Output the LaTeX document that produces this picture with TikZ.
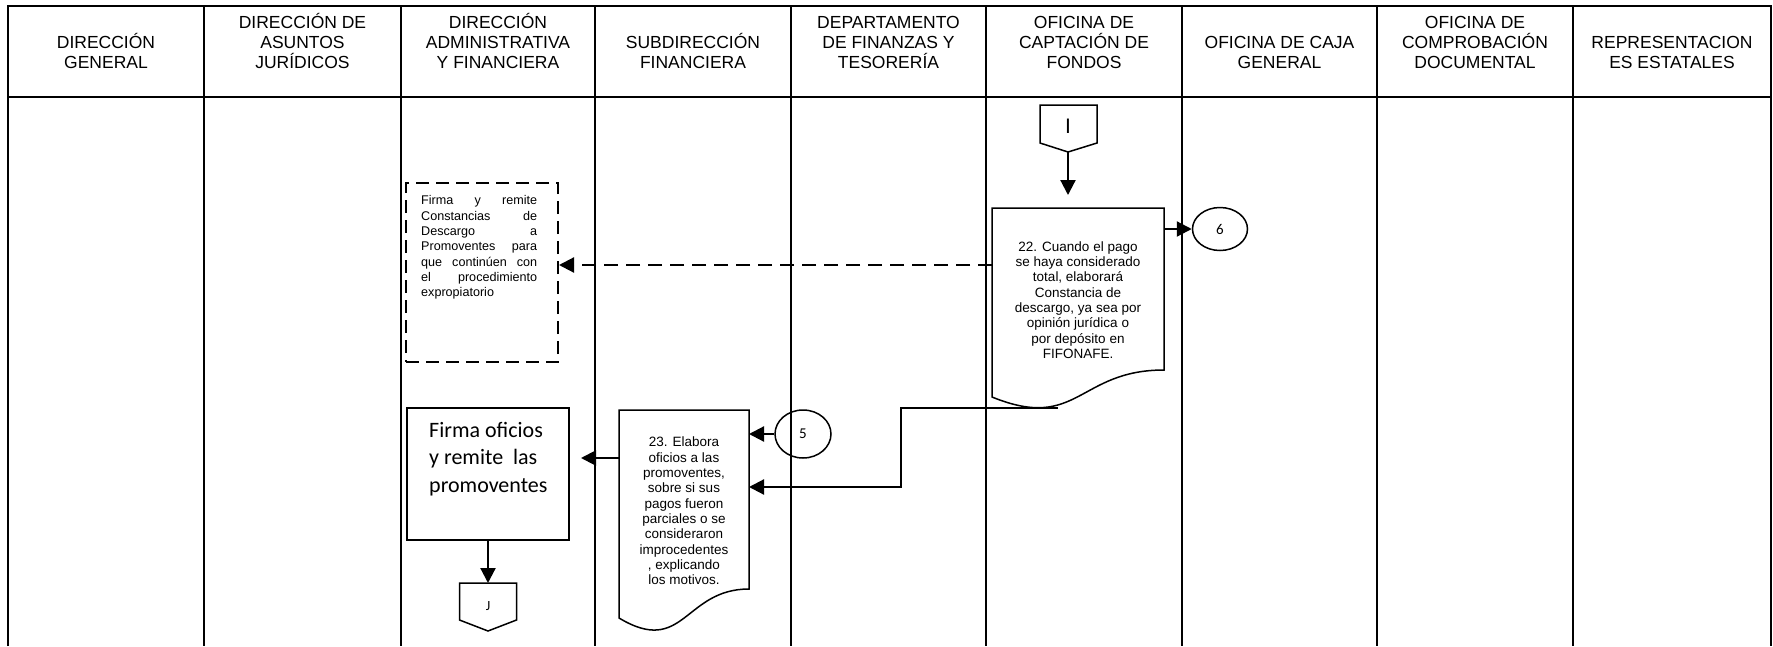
\documentclass[tikz,border=0pt]{standalone}
\usepackage{fontspec}
\setmainfont{Liberation Sans}
\newfontfamily\calfont{Carlito}
\usetikzlibrary{arrows.meta,shapes.geometric}

\tikzset{
  lane/.style={line width=2pt},
  head/.style={align=center, inner sep=0pt, anchor=base, font=\fontsize{17.5}{20}\selectfont},
  docline/.style={line width=1.5pt},
  stepbox/.style={draw, line width=2pt, inner sep=0pt},
  dashbox/.style={draw, line width=2pt, dash pattern=on 13pt off 7pt, inner sep=0pt},
  conn/.style={line width=2.2pt, -{Triangle[length=15pt,width=15pt]}},
  dashconn/.style={conn, dash pattern=on 14pt off 8pt},
  circ/.style={draw, ellipse, line width=1.5pt, inner sep=0pt, font=\calfont\fontsize{15}{18}\selectfont},
  doctext/.style={align=center, inner sep=0pt, font=\fontsize{13.5}{15.3}\selectfont},
  smalltext/.style={align=left, inner sep=0pt, font=\fontsize{12.6}{15.3}\selectfont},
}
\newcommand{\jline}[1]{\makebox[116pt][s]{#1}}

\begin{document}
\begin{tikzpicture}[x=1pt,y=-1pt]
\useasboundingbox (0,0) rectangle (1773,646);

% swimlane frame
\draw[lane] (8,646) -- (8,6) -- (1771,6) -- (1771,646);
\draw[lane] (8,97) -- (1771,97);
\foreach \x in {204,401,595,791,986,1182,1377,1573}
  \draw[lane] (\x,6) -- (\x,646);

% lane headers
\node[head] (h1) at (106,68)   {DIRECCIÓN\\GENERAL};
\node[head] (h2) at (302.5,68) {DIRECCIÓN DE\\ASUNTOS\\JURÍDICOS};
\node[head] (h3) at (498,68)   {DIRECCIÓN\\ADMINISTRATIVA\\Y FINANCIERA};
\node[head] (h4) at (693,68)   {SUBDIRECCIÓN\\FINANCIERA};
\node[head] (h5) at (888.5,68) {DEPARTAMENTO\\DE FINANZAS Y\\TESORERÍA};
\node[head] (h6) at (1084,68)  {OFICINA DE\\CAPTACIÓN DE\\FONDOS};
\node[head] (h7) at (1279.5,68){OFICINA DE CAJA\\GENERAL};
\node[head] (h8) at (1475,68)  {OFICINA DE\\COMPROBACIÓN\\DOCUMENTAL};
\node[head] (h9) at (1672,68)  {REPRESENTACION\\ES ESTATALES};

% off-page connector I
\draw[docline] (1040,105) -- (1097,105) -- (1097,143) -- (1068,152) -- (1040,143) -- cycle;
\node[inner sep=0pt, font=\fontsize{21}{21}\selectfont] (conI) at (1068,126) {I};
\coordinate (conIs) at (1068,152);

% document 22
\draw[docline] (992,208) -- (1164,208) -- (1164,370)
  .. controls (1078,370) and (1078,432) .. (992,397) -- cycle;
\node[doctext] (doc22) at (1078,300) {22. Cuando el pago\\se haya considerado\\total, elaborará\\Constancia de\\descargo, ya sea por\\opinión jurídica o\\por depósito en\\FIFONAFE.};
\coordinate (d22n) at (1068,208);
\coordinate (d22e) at (1164,229);
\coordinate (d22w) at (992,265);
\coordinate (d22s) at (1058,408);

% page connector 6
\node[circ, minimum width=55pt, minimum height=43pt] (c6) at (1220,229) {6};

% dashed signing step
\node[dashbox, minimum width=152pt, minimum height=179pt] (fbox) at (482,272.5) {};
\node[smalltext, anchor=north west] (ftext) at (421,195.5) {\jline{Firma y remite}\\\jline{Constancias de}\\\jline{Descargo a}\\\jline{Promoventes para}\\\jline{que continúen con}\\\jline{el procedimiento}\\expropiatorio};

% document 23
\draw[docline] (619,410) -- (749,410) -- (749,589)
  .. controls (684,589) and (684,657) .. (619,618) -- cycle;
\node[doctext] (doc23) at (684,511) {23. Elabora\\oficios a las\\promoventes,\\sobre si sus\\pagos fueron\\parciales o se\\consideraron\\improcedentes\\, explicando\\los motivos.};
\coordinate (d23a) at (749,434);
\coordinate (d23b) at (749,487);
\coordinate (d23w) at (619,458);
\coordinate (elbow) at (901,408);

% page connector 5
\node[circ, minimum width=56pt, minimum height=48pt] (c5) at (803,434) {5};

% signing step
\node[stepbox, minimum width=162pt, minimum height=132pt] (fof) at (488,474) {};
\node[anchor=north west, align=left, inner sep=0pt, font=\calfont\fontsize{22}{27.5}\selectfont] (foftext) at (429,422) {Firma oficios\\y remite\ \ las\\promoventes};

% off-page connector J
\draw[docline] (459.5,583) -- (516.5,583) -- (516.5,620) -- (488,631) -- (459.5,620) -- cycle;
\node[inner sep=0pt, font=\calfont\fontsize{14}{14}\selectfont] (conJ) at (488,606) {J};
\coordinate (conJn) at (488,583);

% flow
\draw[conn, shorten >=13pt] (conIs) -- (d22n);
\draw[conn] (d22e) -- (c6.west);
\draw[dashconn] (d22w) -- (d22w -| fbox.east);
\draw[conn] (d22s) -- (elbow) |- (d23b);
\draw[conn] (c5.west) -- (d23a);
\draw[conn, shorten >=11pt] (d23w) -- (d23w -| fof.east);
\draw[conn] (fof.south) -- (conJn);
\end{tikzpicture}
\end{document}
